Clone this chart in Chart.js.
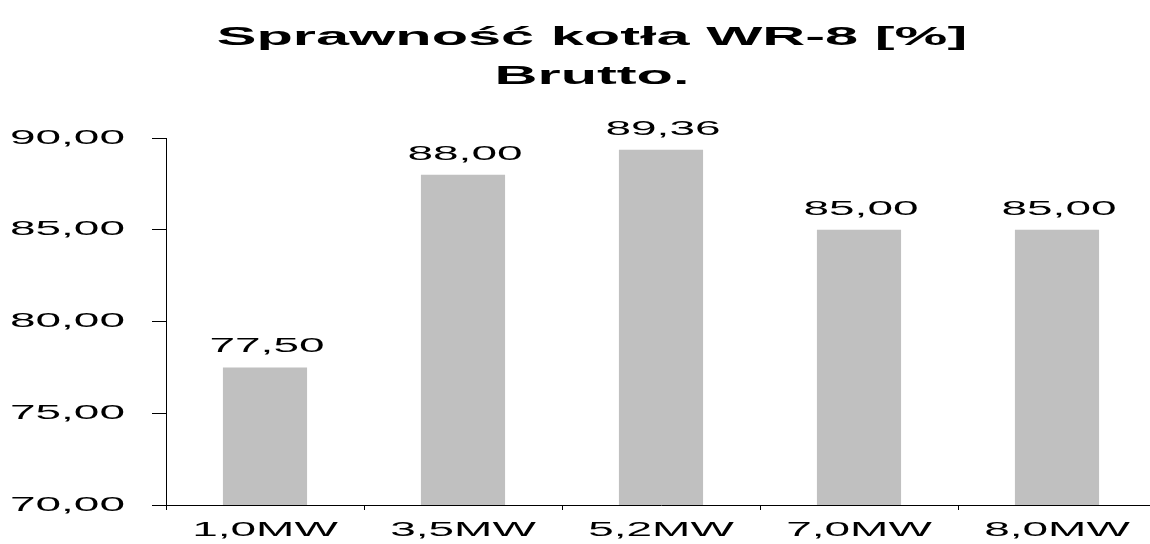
<!DOCTYPE html>
<html>
<head>
<meta charset="utf-8">
<script src="https://cdn.jsdelivr.net/npm/chart.js@4/dist/chart.umd.min.js"></script>
<style>
    html, body { margin: 0; padding: 0; background: #ffffff; overflow: hidden; }
    #chart { display: block; }
</style>
</head>
<body>
<canvas id="chart" width="1156" height="544"></canvas>
<script>
// dane z wykresu
const titleLines = ['Sprawność kotła WR-8 [%]', 'Brutto.'];
const categories = ['1,0MW', '3,5MW', '5,2MW', '7,0MW', '8,0MW'];
const efficiency = [77.50, 88.00, 89.36, 85.00, 85.00];
const yTicks = [70, 75, 80, 85, 90];

// tekst w oryginale jest mocno rozciągnięty w poziomie
const TEXT_STRETCH = 2.3;
const TITLE_STRETCH = 2.38;
const TITLE_SHIFT = 14;   // tytuł lekko w prawo od środka
const FONT = "'Liberation Sans', Arial, sans-serif";

const fmt = (v) => v.toFixed(2).replace('.', ',');

const canvas = document.getElementById('chart');
const ctx = canvas.getContext('2d');
const rawFillText = ctx.fillText.bind(ctx);
ctx.fillText = function (text, x, y) {
    const isTitle = this.font.indexOf('bold') >= 0;
    this.save();
    this.translate(x + (isTitle ? TITLE_SHIFT : 0), y);
    this.scale(isTitle ? TITLE_STRETCH : TEXT_STRETCH, 1);
    rawFillText(text, 0, 0);
    this.restore();
};

// etykiety wartości nad słupkami
const valueLabels = {
    id: 'valueLabels',
    afterDatasetsDraw(chart) {
        const c = chart.ctx;
        const meta = chart.getDatasetMeta(0);
        c.save();
        c.font = `20px ${FONT}`;
        c.fillStyle = '#000000';
        c.textAlign = 'center';
        c.textBaseline = 'alphabetic';
        meta.data.forEach((bar, i) => {
            c.fillText(fmt(efficiency[i]), bar.x + 2, bar.y - 15);
        });
        c.restore();
    }
};

new Chart(ctx, {
    type: 'bar',
    data: {
        labels: categories,
        datasets: [{
            data: efficiency,
            backgroundColor: '#c0c0c0',
            borderWidth: 0,
            categoryPercentage: 1.0,
            barPercentage: 0.425
        }]
    },
    options: {
        responsive: false,
        animation: false,
        events: [],
        layout: {
            padding: 0
        },
        plugins: {
            legend: { display: false },
            tooltip: { enabled: false },
            title: {
                display: true,
                text: titleLines,
                color: '#000000',
                font: { family: FONT, size: 25, weight: 'bold', lineHeight: 1.56 },
                padding: { top: 18.5, bottom: 41.5 }
            }
        },
        scales: {
            x: {
                grid: {
                    display: true,
                    drawOnChartArea: false,
                    drawTicks: true,
                    tickLength: 5,
                    color: '#000000',
                    offset: true
                },
                border: { display: true, color: '#000000', width: 1 },
                ticks: {
                    color: '#000000',
                    font: { family: FONT, size: 20 },
                    padding: 8,
                    maxRotation: 0,
                    autoSkip: false
                },
                afterFit: (scale) => { scale.height = 34; }
            },
            y: {
                min: 70,
                max: 90,
                afterBuildTicks: (scale) => {
                    scale.ticks = yTicks.map(v => ({ value: v }));
                },
                grid: {
                    display: true,
                    drawOnChartArea: false,
                    drawTicks: true,
                    tickLength: 14,
                    color: '#000000'
                },
                border: { display: true, color: '#000000', width: 1 },
                ticks: {
                    color: '#000000',
                    font: { family: FONT, size: 20 },
                    padding: 27,
                    callback: (value) => fmt(value)
                },
                afterFit: (scale) => { scale.width = 166; }
            }
        }
    },
    plugins: [valueLabels]
});
</script>
</body>
</html>
